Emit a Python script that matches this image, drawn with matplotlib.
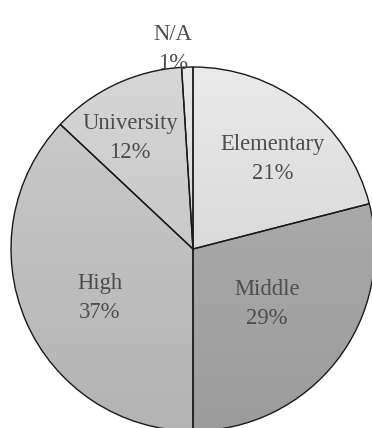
import numpy as np
import matplotlib
matplotlib.use("Agg")
import matplotlib.pyplot as plt

categories = ["Elementary", "Middle", "High", "University", "N/A"]
shares = [21, 29, 37, 12, 1]
fill_colors = ["#e9e9e9", "#b2b2b2", "#cdcdcd", "#d6d6d6", "#e6e6e6"]

# label anchor points in pixel units (x from left, y from top)
label_xy = {
    "Elementary": (273, 159),
    "Middle": (267, 304),
    "High": (100, 298),
    "University": (130, 138),
    "N/A": (173, 49),
}

W, H = 372, 428
fig = plt.figure(figsize=(W / 100, H / 100), dpi=100)
ax = fig.add_axes([0, 0, 1, 1])

center = (193, H - 249)
radius = 182


def reset_axes():
    ax.set_xlim(0, W)
    ax.set_ylim(0, H)
    ax.set_aspect("equal")
    ax.axis("off")


wedges, _ = ax.pie(shares, colors=fill_colors, startangle=90, counterclock=False,
                   center=center, radius=radius, frame=True,
                   wedgeprops=dict(edgecolor="none", linewidth=0))
reset_axes()

# soft vertical shading across the pie
grad = np.linspace(0, 1, 256).reshape(-1, 1)
cmap = matplotlib.colors.LinearSegmentedColormap.from_list(
    "shade", [(0, 0, 0, 0.0), (0, 0, 0, 0.13)])
img = ax.imshow(grad, cmap=cmap, origin="upper", aspect="auto",
                extent=(center[0] - radius, center[0] + radius,
                        center[1] - radius, center[1] + radius),
                zorder=1.5, interpolation="bilinear")
clip = plt.Circle(center, radius, transform=ax.transData)
img.set_clip_path(clip)

# outlines on top
ax.pie(shares, colors=["none"] * len(shares), startangle=90, counterclock=False,
       center=center, radius=radius, frame=True,
       wedgeprops=dict(edgecolor="#1a1a1a", linewidth=1.0, fill=False, zorder=3))
reset_axes()

for cat, val in zip(categories, shares):
    x, y = label_xy[cat]
    ax.text(x, H - y, f"{cat}\n{val}%", ha="center", va="center",
            multialignment="center", fontsize=16.3, color="#4d4d4d",
            family="Liberation Serif", linespacing=1.45, zorder=4)

fig.savefig("out.png", dpi=100)
